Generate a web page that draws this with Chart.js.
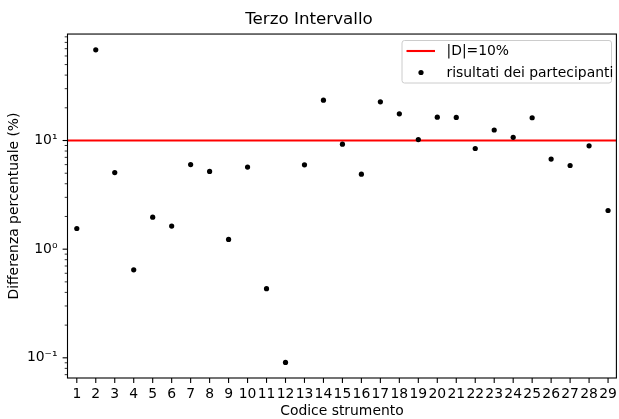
<!DOCTYPE html>
<html>
<head>
<meta charset="utf-8">
<script src="https://cdn.jsdelivr.net/npm/chart.js@4/dist/chart.umd.min.js"></script>
<style>
html,body{margin:0;padding:0;background:#fff;}
#wrap{width:619px;height:419px;}
</style>
</head>
<body>
<div id="wrap"><canvas id="c" width="619" height="419"></canvas></div>
<script>
// ---- data ----
const instrumentCodes = [1,2,3,4,5,6,7,8,9,10,11,12,13,14,15,16,17,18,19,20,21,22,23,24,25,26,27,28,29];
const percentDiff = [1.55, 68.3, 5.07, 0.645, 1.97, 1.63, 6.0, 5.19, 1.23, 5.7, 0.433, 0.0907, 5.97, 23.5, 9.25, 4.9, 22.7, 17.6, 10.2, 16.4, 16.3, 8.44, 12.5, 10.7, 16.2, 6.75, 5.89, 8.94, 2.27];
const thresholdValue = 10;
const majorTickValues = [0.1, 1, 10];
const majorTickLabels = ['10\u207B\u00B9', '10\u2070', '10\u00B9'];
const titleText = 'Terzo Intervallo';
const xTitle = 'Codice strumento';
const yTitle = 'Differenza percentuale (%)';
const legendLabels = ['|D|=10%', 'risultati dei partecipanti'];

const FONT = 'DejaVu Sans';
const yMin = 0.0652, yMax = 95.5;
const xMin = 0.51, xMax = 29.44;

// all log tick positions (major + minor) within range
function logTicks(){
  const out = [];
  for (let e = -2; e <= 2; e++) {
    for (let m = 1; m <= 9; m++) {
      const v = parseFloat((m * Math.pow(10, e)).toPrecision(6));
      if (v >= yMin && v <= yMax) out.push(v);
    }
  }
  return out;
}
function isMajor(v){ return majorTickValues.some(m => Math.abs(m - v) / m < 1e-6); }

const framePlugin = {
  id: 'frame',
  afterDatasetsDraw(chart){
    const {ctx, chartArea: a, scales} = chart;
    ctx.save();
    // spines
    ctx.strokeStyle = '#000';
    ctx.lineWidth = 1.1;
    ctx.strokeRect(a.left, a.top, a.right - a.left, a.bottom - a.top);
    // x ticks
    const xs = scales.x;
    ctx.lineWidth = 1.1;
    instrumentCodes.forEach(c => {
      const px = xs.getPixelForValue(c);
      ctx.beginPath(); ctx.moveTo(px, a.bottom); ctx.lineTo(px, a.bottom + 4.9); ctx.stroke();
    });
    // y ticks
    const ys = scales.y;
    logTicks().forEach(v => {
      const py = ys.getPixelForValue(v);
      const maj = isMajor(v);
      ctx.lineWidth = maj ? 1.1 : 0.8;
      ctx.beginPath(); ctx.moveTo(a.left, py); ctx.lineTo(a.left - (maj ? 4.9 : 2.8), py); ctx.stroke();
    });
    // legend
    const lx = 402, ly = 40.5, lw = 209.5, lh = 42.5;
    ctx.beginPath();
    ctx.roundRect(lx, ly, lw, lh, 2.5);
    ctx.fillStyle = 'rgba(255,255,255,0.8)';
    ctx.fill();
    ctx.strokeStyle = '#cccccc';
    ctx.lineWidth = 1;
    ctx.stroke();
    ctx.strokeStyle = '#ff0000';
    ctx.lineWidth = 2.1;
    ctx.beginPath(); ctx.moveTo(406.5, 51); ctx.lineTo(435, 51); ctx.stroke();
    ctx.fillStyle = '#000';
    ctx.beginPath(); ctx.arc(421, 72.5, 2.6, 0, Math.PI * 2); ctx.fill();
    ctx.font = '13.9px "' + FONT + '"';
    ctx.textBaseline = 'middle';
    ctx.textAlign = 'left';
    ctx.fillText(legendLabels[0], 446.5, 51.5);
    ctx.fillText(legendLabels[1], 446.5, 73);
    ctx.restore();
  }
};

new Chart(document.getElementById('c'), {
  type: 'scatter',
  data: {
    datasets: [
      {
        label: legendLabels[1],
        data: instrumentCodes.map((c, i) => ({x: c, y: percentDiff[i]})),
        backgroundColor: '#000',
        borderWidth: 0,
        pointRadius: 2.6,
        pointHoverRadius: 2.6,
        order: 0
      },
      {
        label: legendLabels[0],
        type: 'line',
        data: [{x: xMin, y: thresholdValue}, {x: xMax, y: thresholdValue}],
        borderColor: '#ff0000',
        borderWidth: 2.1,
        pointRadius: 0,
        showLine: true,
        fill: false,
        order: 1
      }
    ]
  },
  options: {
    responsive: false,
    devicePixelRatio: 1,
    animation: false,
    events: [],
    layout: { padding: { top: 0, right: 1.5, left: 0.5, bottom: 0 } },
    plugins: {
      legend: { display: false },
      tooltip: { enabled: false },
      title: {
        display: true,
        text: titleText,
        color: '#000',
        font: { family: FONT, size: 16.7, weight: 'normal' },
        padding: { top: 10, bottom: 4 }
      }
    },
    scales: {
      x: {
        type: 'linear',
        min: xMin, max: xMax,
        grid: { display: false, drawTicks: false },
        border: { display: false },
        afterBuildTicks: s => { s.ticks = instrumentCodes.map(v => ({value: v})); },
        afterFit: s => { s.height = 41; s.paddingLeft = 0; s.paddingRight = 0; },
        ticks: {
          autoSkip: false, maxRotation: 0, minRotation: 0,
          color: '#000', padding: 8,
          font: { family: FONT, size: 13.9 },
          callback: v => String(v)
        },
        title: {
          display: true, text: xTitle, color: '#000',
          font: { family: FONT, size: 13.9 },
          padding: { top: 0, bottom: -0.5 }
        }
      },
      y: {
        type: 'logarithmic',
        min: yMin, max: yMax,
        grid: { display: false, drawTicks: false },
        border: { display: false },
        afterBuildTicks: s => { s.ticks = logTicks().map(v => ({value: v, major: isMajor(v)})); },
        afterFit: s => { s.width = 67; s.paddingTop = 0; s.paddingBottom = 0; },
        ticks: {
          autoSkip: false, color: '#000', padding: 10,
          font: { family: FONT, size: 13.9 },
          callback: v => { const i = majorTickValues.findIndex(m => Math.abs(m - v) / m < 1e-6); return i >= 0 ? majorTickLabels[i] : ''; }
        },
        title: {
          display: true, text: yTitle, color: '#000',
          font: { family: FONT, size: 13.9 },
          padding: { top: 5.2, bottom: 0 }
        }
      }
    }
  },
  plugins: [framePlugin]
});
</script>
</body>
</html>
